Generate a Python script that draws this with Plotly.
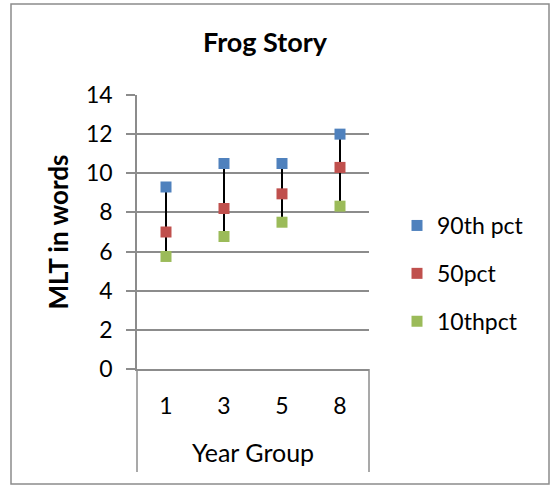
import plotly.graph_objects as go

categories = ["1", "3", "5", "8"]
p90 = [9.3, 10.5, 10.5, 12.0]
p50 = [7.0, 8.2, 8.95, 10.3]
p10 = [5.75, 6.77, 7.5, 8.32]
series_names = ["90th pct", "50pct", "10thpct"]
series_colors = ["#4F81BD", "#C0504D", "#9BBB59"]
y_ticks = [0, 2, 4, 6, 8, 10, 12, 14]

FONT = "Lato"
GRID = "#8C8C8C"

fig = go.Figure()

# high-low lines
hx, hy = [], []
for c, hi, lo in zip(categories, p90, p10):
    hx += [c, c, None]
    hy += [hi, lo, None]
fig.add_trace(go.Scatter(x=hx, y=hy, mode="lines", line=dict(color="black", width=2),
                         showlegend=False, hoverinfo="skip"))

for name, vals, col in zip(series_names, [p90, p50, p10], series_colors):
    fig.add_trace(go.Scatter(x=categories, y=vals, mode="markers", name=name,
                             legendgroup=name,
                             marker=dict(symbol="square", size=11, color=col,
                                         line=dict(width=0))))

L, R, T, B = 137, 183, 95, 117
W, H = 552, 486
pw, ph = W - L - R, H - T - B

def px_x(x):
    return (x - L) / pw

def px_y(y):
    return (H - B - y) / ph

shapes = [
    # outer border
    dict(type="rect", xref="paper", yref="paper", x0=px_x(11), x1=px_x(549),
         y0=px_y(484), y1=px_y(4), line=dict(color="#8C8C8C", width=1.5)),
    # category axis separators
    dict(type="line", xref="paper", yref="paper", x0=0, x1=0, y0=0, y1=px_y(472),
         line=dict(color=GRID, width=1.5)),
    dict(type="line", xref="paper", yref="paper", x0=1, x1=1, y0=0, y1=px_y(472),
         line=dict(color=GRID, width=1.5)),
]

fig.update_layout(
    width=W, height=H,
    margin=dict(l=L, r=R, t=T, b=B),
    paper_bgcolor="white", plot_bgcolor="white",
    font=dict(family=FONT, color="black", size=22),
    title=dict(text="<b>Frog Story</b>", x=265 / W, xref="container", xanchor="center",
               y=1 - 43 / H, yanchor="middle", font=dict(size=27, family=FONT)),
    shapes=shapes,
    legend=dict(x=px_x(397), y=px_y(204), xanchor="left", yanchor="top",
                font=dict(size=23, family=FONT), tracegroupgap=15,
                bgcolor="rgba(0,0,0,0)"),
    xaxis=dict(type="category", categoryorder="array", categoryarray=categories,
               range=[-0.5, 3.5], showgrid=False, showline=True, linecolor=GRID,
               linewidth=1.5, ticks="", ticklabelstandoff=16,
               tickfont=dict(size=23),
               title=dict(text="Year Group", standoff=26, font=dict(size=25))),
    yaxis=dict(range=[0, 14], tickvals=y_ticks, showgrid=True, gridcolor=GRID,
               gridwidth=1.5, showline=True, linecolor=GRID, linewidth=1.5,
               ticks="outside", ticklen=9, tickcolor=GRID, tickwidth=1.5,
               ticklabelstandoff=9, zeroline=False, tickfont=dict(size=23),
               title=dict(text="<b>MLT in words</b>", standoff=10, font=dict(size=26))),
)

fig.write_html("out.html", config={"displayModeBar": False},
               post_script="document.body.style.margin='0';")
